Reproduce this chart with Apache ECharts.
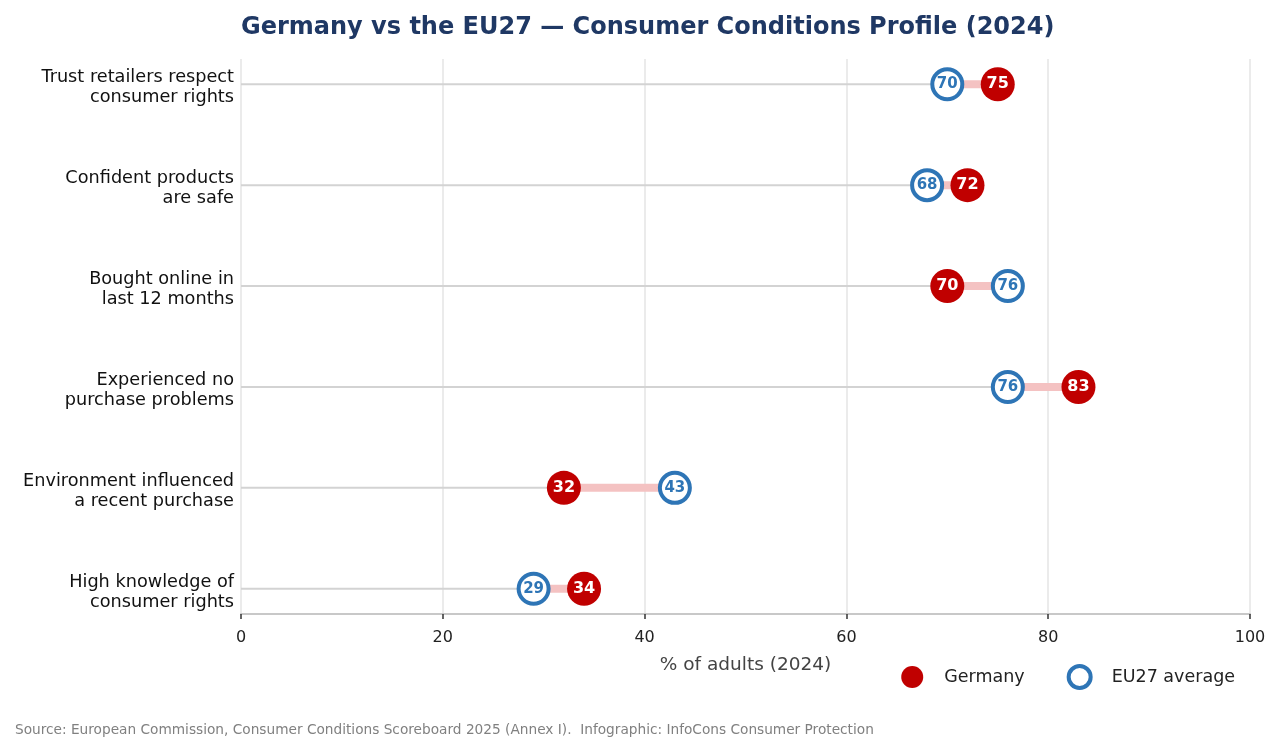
<!DOCTYPE html>
<html>
<head>
<meta charset="utf-8">
<script src="https://cdn.jsdelivr.net/npm/echarts@6/dist/echarts.min.js"></script>
<style>
html,body{margin:0;padding:0;background:#fff;}
#c{width:1282px;height:753px;}
</style>
</head>
<body>
<div id="c"></div>
<script>
// Data (bottom to top)
var categories = [
  "High knowledge of\nconsumer rights",
  "Environment influenced\na recent purchase",
  "Experienced no\npurchase problems",
  "Bought online in\nlast 12 months",
  "Confident products\nare safe",
  "Trust retailers respect\nconsumer rights"
];
var germany = [34, 32, 83, 70, 72, 75];
var eu27 = [29, 43, 76, 76, 68, 70];
var xTicks = [0, 20, 40, 60, 80, 100];

var FONT = "DejaVu Sans";
var chart = echarts.init(document.getElementById('c'));

var connectorData = categories.map(function (c, i) {
  return [i, germany[i], eu27[i]];
});
// label anchor positions, nudged slightly below each row like the reference
var labelPositions = categories.map(function (c, i) { return i - 0.035; });

var option = {
  backgroundColor: '#fff',
  animation: false,
  textStyle: { fontFamily: FONT },
  title: {
    text: 'Germany vs the EU27 \u2014 Consumer Conditions Profile (2024)',
    left: 236,
    top: 11,
    textStyle: { fontFamily: FONT, fontSize: 24, fontWeight: 'bold', color: '#1f3864' }
  },
  graphic: [{
    type: 'text',
    left: 15,
    top: 723,
    style: {
      text: 'Source: European Commission, Consumer Conditions Scoreboard 2025 (Annex I).  Infographic: InfoCons Consumer Protection',
      fontFamily: FONT, fontSize: 13.7, fill: '#808080'
    }
  }],
  legend: {
    right: 42,
    top: 659,
    itemWidth: 22,
    itemHeight: 22,
    itemGap: 42,
    textStyle: { fontFamily: FONT, fontSize: 17.5, color: '#222', padding: [0, 0, 0, 16] },
    data: [
      { name: 'Germany', icon: 'circle', itemStyle: { color: '#c00000', borderWidth: 0, opacity: 1 } },
      { name: 'EU27 average', icon: 'circle', itemStyle: { color: '#ffffff', borderColor: '#2e75b6', borderWidth: 4, opacity: 1 } }
    ]
  },
  grid: { left: 241, right: 32, top: 59, bottom: 139, containLabel: false },
  xAxis: {
    type: 'value',
    min: 0, max: 100, interval: 20,
    name: '% of adults (2024)',
    nameLocation: 'middle',
    nameGap: 42,
    nameTextStyle: { fontFamily: FONT, fontSize: 18.5, color: '#444' },
    axisLine: { show: true, onZero: false, lineStyle: { color: '#c8c8c8', width: 2 } },
    axisTick: { show: true, length: 5, lineStyle: { color: '#333', width: 1.5 } },
    axisLabel: { fontFamily: FONT, fontSize: 16, color: '#222', margin: 16,
      formatter: function (v) { return xTicks.indexOf(v) >= 0 ? String(v) : ''; } },
    splitLine: { show: true, lineStyle: { color: '#ebebeb', width: 2 } }
  },
  yAxis: {
    type: 'value',
    min: -0.25, max: 5.25,
    axisLine: { show: false },
    axisTick: { show: false },
    splitLine: { show: false },
    axisLabel: {
      customValues: labelPositions,
      fontFamily: FONT, fontSize: 17.7, color: '#111', lineHeight: 20, align: 'right', margin: 7,
      formatter: function (v) { return categories[Math.round(v)] || ''; }
    }
  },
  series: [
    {
      type: 'custom',
      name: 'connectors',
      silent: true,
      z: 1,
      data: connectorData,
      encode: { x: [1, 2], y: 0 },
      renderItem: function (params, api) {
        var y = api.value(0), a = api.value(1), b = api.value(2);
        var lo = Math.min(a, b), hi = Math.max(a, b);
        var p0 = api.coord([0, y]), p1 = api.coord([lo, y]), p2 = api.coord([hi, y]);
        return {
          type: 'group',
          children: [
            { type: 'line', shape: { x1: p0[0], y1: p0[1], x2: p1[0], y2: p1[1] },
              style: { stroke: '#d3d3d3', lineWidth: 2 } },
            { type: 'line', shape: { x1: p1[0], y1: p1[1], x2: p2[0], y2: p2[1] },
              style: { stroke: '#f4c2c2', lineWidth: 8 } }
          ]
        };
      }
    },
    {
      type: 'scatter',
      name: 'EU27 average',
      z: 3,
      symbol: 'circle',
      symbolSize: 30,
      data: eu27.map(function (v, i) { return [v, i]; }),
      itemStyle: { color: '#ffffff', borderColor: '#2e75b6', borderWidth: 4, opacity: 1 },
      label: {
        show: true, position: 'inside',
        formatter: function (p) { return p.value[0]; },
        fontFamily: FONT, fontSize: 15, fontWeight: 'bold', color: '#2e75b6'
      }
    },
    {
      type: 'scatter',
      name: 'Germany',
      z: 4,
      symbol: 'circle',
      symbolSize: 34,
      data: germany.map(function (v, i) { return [v, i]; }),
      itemStyle: { color: '#c00000', opacity: 1 },
      label: {
        show: true, position: 'inside',
        formatter: function (p) { return p.value[0]; },
        fontFamily: FONT, fontSize: 16, fontWeight: 'bold', color: '#ffffff'
      }
    }
  ]
};
chart.setOption(option);
</script>
</body>
</html>
